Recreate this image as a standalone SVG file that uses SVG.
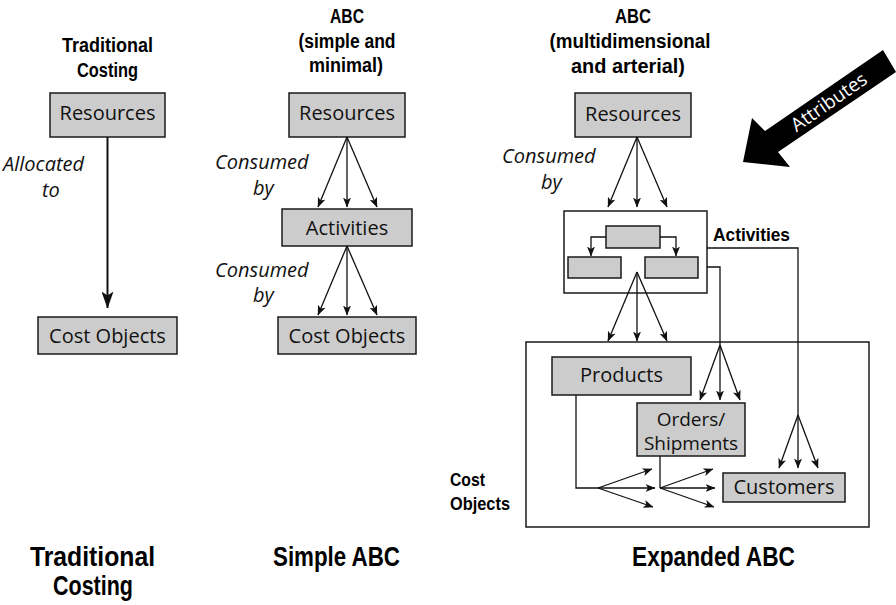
<svg xmlns="http://www.w3.org/2000/svg" width="896" height="605" viewBox="0 0 896 605">
<style>
.box{fill:#cccccc;stroke:#1a1a1a;stroke-width:1.5}
.frame{fill:#ffffff;stroke:#1a1a1a;stroke-width:1.5}
.lbl{font-family:"Open Sans","Noto Sans","Liberation Sans",sans-serif;font-size:20px;fill:#111;text-anchor:middle}
.it{font-family:"Open Sans","Noto Sans","Liberation Sans",sans-serif;font-size:20px;font-style:italic;fill:#111}
.hd{font-family:"Liberation Sans",Arial,sans-serif;font-weight:bold;font-size:19.5px;fill:#000;text-anchor:middle}
.hdl{font-family:"Liberation Sans",Arial,sans-serif;font-weight:bold;font-size:19px;fill:#000}
.big{font-family:"Liberation Sans",Arial,sans-serif;font-weight:bold;font-size:28px;fill:#000;text-anchor:middle}
.ln{fill:none;stroke:#111;stroke-width:1.3}
.ar{fill:none;stroke:#111;stroke-width:1.3;marker-end:url(#ah)}
</style>
<defs>
<marker id="ah" viewBox="0 0 10 8" markerWidth="10" markerHeight="8" refX="9.5" refY="4" orient="auto" markerUnits="userSpaceOnUse">
<path d="M0,0 L10,4 L0,8 L2.5,4 z" fill="#111"/>
</marker>
<marker id="ahb" viewBox="0 0 17 12" markerWidth="17" markerHeight="12" refX="16.5" refY="6" orient="auto" markerUnits="userSpaceOnUse">
<path d="M0,0 L17,6 L0,12 L4,6 z" fill="#111"/>
</marker>
</defs>

<!-- Headings -->
<g id="titles">
<text class="hd" x="107.5" y="52" textLength="91" lengthAdjust="spacingAndGlyphs">Traditional</text>
<text class="hd" x="107.5" y="77" textLength="61" lengthAdjust="spacingAndGlyphs">Costing</text>
<text class="hd" x="347" y="23" textLength="34" lengthAdjust="spacingAndGlyphs">ABC</text>
<text class="hd" x="347" y="48" textLength="97" lengthAdjust="spacingAndGlyphs">(simple and</text>
<text class="hd" x="346" y="72" textLength="74" lengthAdjust="spacingAndGlyphs">minimal)</text>
<text class="hd" x="633" y="23" textLength="36" lengthAdjust="spacingAndGlyphs">ABC</text>
<text class="hd" x="630" y="48" textLength="161" lengthAdjust="spacingAndGlyphs">(multidimensional</text>
<text class="hd" x="628" y="73" textLength="114" lengthAdjust="spacingAndGlyphs">and arterial)</text>
<text class="big" x="92.5" y="566" textLength="125" lengthAdjust="spacingAndGlyphs">Traditional</text>
<text class="big" x="93" y="595" textLength="80" lengthAdjust="spacingAndGlyphs">Costing</text>
<text class="big" x="336.5" y="566" textLength="127" lengthAdjust="spacingAndGlyphs">Simple ABC</text>
<text class="big" x="713.5" y="566" textLength="163" lengthAdjust="spacingAndGlyphs">Expanded ABC</text>
</g>

<!-- Italic labels -->
<g id="edge-labels">
<text class="it" x="3" y="171">Allocated</text>
<text class="it" x="42" y="197">to</text>
<text class="it" x="215" y="169">Consumed</text>
<text class="it" x="253" y="195">by</text>
<text class="it" x="215" y="277">Consumed</text>
<text class="it" x="253" y="302">by</text>
<text class="it" x="502" y="163">Consumed</text>
<text class="it" x="541" y="189">by</text>
</g>

<!-- Frames -->
<g id="activities-group">
<rect class="frame" x="564" y="211" width="143" height="82"/>
<text class="hdl" x="713" y="241" textLength="77" lengthAdjust="spacingAndGlyphs">Activities</text>
</g>
<g id="cost-objects-group">
<rect class="frame" x="526" y="342" width="343" height="185"/>
<text class="hdl" x="450" y="486" textLength="35" lengthAdjust="spacingAndGlyphs">Cost</text>
<text class="hdl" x="450" y="510" textLength="60" lengthAdjust="spacingAndGlyphs">Objects</text>
</g>

<!-- Traditional column -->
<g id="trad-resources">
<rect class="box" x="50" y="93" width="115" height="44"/>
<text class="lbl" x="107.5" y="120">Resources</text>
</g>
<g id="trad-costobjects">
<rect class="box" x="38" y="317" width="139" height="37"/>
<text class="lbl" x="107.5" y="343">Cost Objects</text>
</g>

<!-- Simple ABC column -->
<g id="simple-resources">
<rect class="box" x="289" y="93" width="116" height="44"/>
<text class="lbl" x="347" y="120">Resources</text>
</g>
<g id="simple-activities">
<rect class="box" x="282" y="209" width="130" height="37"/>
<text class="lbl" x="347" y="235">Activities</text>
</g>
<g id="simple-costobjects">
<rect class="box" x="278" y="317" width="138" height="37"/>
<text class="lbl" x="347" y="343">Cost Objects</text>
</g>

<!-- Expanded ABC column -->
<g id="exp-resources">
<rect class="box" x="575" y="93" width="116" height="44"/>
<text class="lbl" x="633" y="121">Resources</text>
</g>
<g id="exp-act-top"><rect class="box" x="606" y="226" width="54" height="22"/></g>
<g id="exp-act-left"><rect class="box" x="568" y="257" width="53" height="21"/></g>
<g id="exp-act-right"><rect class="box" x="645" y="257" width="53" height="21"/></g>
<g id="exp-products">
<rect class="box" x="552" y="357" width="139" height="38"/>
<text class="lbl" x="621.5" y="382">Products</text>
</g>
<g id="exp-orders">
<rect class="box" x="637" y="403" width="108" height="53"/>
<text class="lbl" x="691" y="426" style="font-size:19px">Orders/</text>
<text class="lbl" x="691" y="450" style="font-size:19px">Shipments</text>
</g>
<g id="exp-customers">
<rect class="box" x="723" y="473" width="122" height="29"/>
<text class="lbl" x="784" y="494">Customers</text>
</g>

<!-- Attributes arrow -->
<g id="attributes">
<polygon points="743,162 790,167 778,152 896,72 883,50 765,131 752,118" fill="#000"/>
<text x="0" y="6.5" transform="translate(829,102) rotate(-34.8)" font-family="'Open Sans','Noto Sans',sans-serif" font-size="19" fill="#fff" text-anchor="middle">Attributes</text>
</g>

<!-- Connectors -->
<g id="connectors">
<line x1="107.5" y1="137" x2="107.5" y2="308" style="fill:none;stroke:#111;stroke-width:2;marker-end:url(#ahb)"/>

<line class="ar" x1="347" y1="137" x2="318" y2="207"/>
<line class="ar" x1="347" y1="137" x2="347" y2="207"/>
<line class="ar" x1="347" y1="137" x2="377" y2="207"/>

<line class="ar" x1="347" y1="246" x2="318" y2="315"/>
<line class="ar" x1="347" y1="246" x2="347" y2="315"/>
<line class="ar" x1="347" y1="246" x2="377" y2="315"/>

<line class="ar" x1="637" y1="137" x2="608" y2="207"/>
<line class="ar" x1="637" y1="137" x2="637" y2="207"/>
<line class="ar" x1="637" y1="137" x2="667" y2="207"/>

<path class="ar" d="M606,237 H591 V256"/>
<path class="ar" d="M660,237 H676 V256"/>

<line class="ar" x1="637" y1="272" x2="608" y2="341"/>
<line class="ar" x1="637" y1="272" x2="637" y2="341"/>
<line class="ar" x1="637" y1="272" x2="667" y2="341"/>

<path class="ln" d="M707,267 H720 V345"/>
<line class="ar" x1="720" y1="345" x2="700" y2="400"/>
<line class="ar" x1="720" y1="345" x2="720" y2="400"/>
<line class="ar" x1="720" y1="345" x2="740" y2="400"/>

<path class="ln" d="M707,248 H798 V415"/>
<line class="ar" x1="798" y1="415" x2="779" y2="468"/>
<line class="ar" x1="798" y1="415" x2="798" y2="468"/>
<line class="ar" x1="798" y1="415" x2="818" y2="468"/>

<path class="ln" d="M576,395 V488 H598"/>
<line class="ar" x1="598" y1="488" x2="652" y2="469"/>
<line class="ar" x1="598" y1="488" x2="655" y2="488"/>
<line class="ar" x1="598" y1="488" x2="653" y2="507"/>

<path class="ln" d="M660,456 V488"/>
<line class="ar" x1="660" y1="488" x2="713" y2="469"/>
<line class="ar" x1="660" y1="488" x2="715" y2="488"/>
<line class="ar" x1="660" y1="488" x2="714" y2="507"/>
</g>
</svg>
